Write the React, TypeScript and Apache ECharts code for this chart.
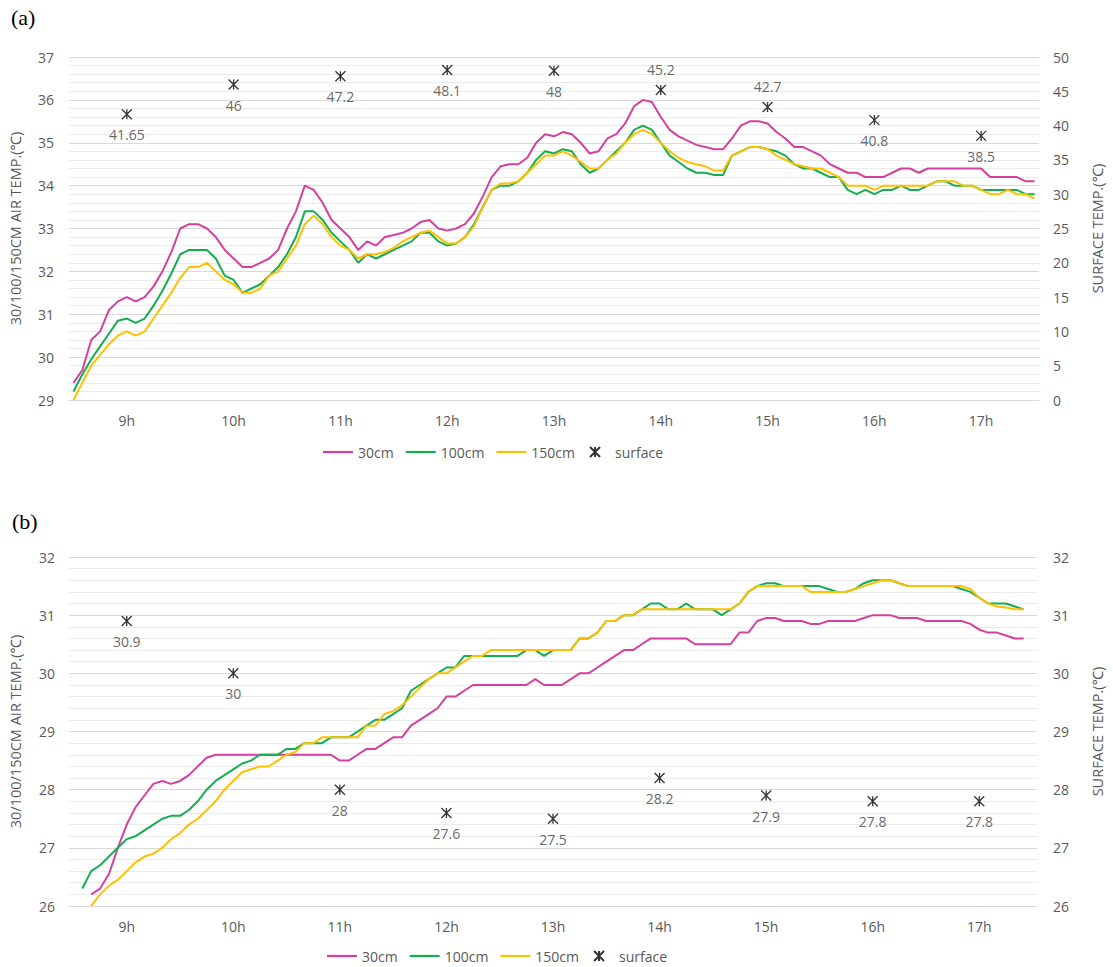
import React, { useEffect, useRef } from 'react';
import * as echarts from 'echarts';

// 5-minute time categories, 8:30 .. 17:30
const TIMES: string[] = (() => {
  const out: string[] = [];
  for (let m = 8 * 60 + 30; m <= 17 * 60 + 30; m += 5) {
    out.push(`${Math.floor(m / 60)}:${String(m % 60).padStart(2, '0')}`);
  }
  return out;
})();

const SERIES_NAMES = ['30cm', '100cm', '150cm', 'surface'];
const SURFACE_TIMES = ['9:00', '10:00', '11:00', '12:00', '13:00', '14:00', '15:00', '16:00', '17:00'];

// ---- panel (a) ----
const A_30 = [
  29.4, 29.7, 30.4, 30.6, 31.1, 31.3, 31.4, 31.3, 31.4, 31.65, 32.0, 32.45,
  33.0, 33.1, 33.1, 33.0, 32.8, 32.5, 32.3, 32.1, 32.1, 32.2, 32.3, 32.5,
  33.0, 33.4, 34.0, 33.9, 33.6, 33.2, 33.0, 32.8, 32.5, 32.7, 32.6, 32.8,
  32.85, 32.9, 33.0, 33.15, 33.2, 33.0, 32.95, 33.0, 33.1, 33.35, 33.75, 34.2,
  34.45, 34.5, 34.5, 34.65, 35.0, 35.2, 35.15, 35.25, 35.2, 35.0, 34.75, 34.8,
  35.1, 35.2, 35.45, 35.85, 36.0, 35.95, 35.6, 35.3, 35.15, 35.05, 34.95, 34.9,
  34.85, 34.85, 35.1, 35.4, 35.5, 35.5, 35.45, 35.25, 35.1, 34.9, 34.9, 34.8,
  34.7, 34.5, 34.4, 34.3, 34.3, 34.2, 34.2, 34.2, 34.3, 34.4, 34.4, 34.3,
  34.4, 34.4, 34.4, 34.4, 34.4, 34.4, 34.4, 34.2, 34.2, 34.2, 34.2, 34.1,
  34.1,
];
const A_100 = [
  29.2, 29.6, 29.95, 30.25, 30.55, 30.85, 30.9, 30.8, 30.9, 31.2, 31.55, 31.95,
  32.4, 32.5, 32.5, 32.5, 32.3, 31.9, 31.8, 31.5, 31.6, 31.7, 31.9, 32.1,
  32.4, 32.8, 33.4, 33.4, 33.2, 32.9, 32.7, 32.5, 32.2, 32.4, 32.3, 32.4,
  32.5, 32.6, 32.7, 32.9, 32.9, 32.7, 32.6, 32.65, 32.8, 33.1, 33.5, 33.9,
  34.0, 34.0, 34.1, 34.3, 34.6, 34.8, 34.75, 34.85, 34.8, 34.5, 34.3, 34.4,
  34.6, 34.8, 35.0, 35.3, 35.4, 35.3, 35.0, 34.7, 34.55, 34.4, 34.3, 34.3,
  34.25, 34.25, 34.7, 34.8, 34.9, 34.9, 34.85, 34.8, 34.7, 34.5, 34.4, 34.4,
  34.3, 34.2, 34.2, 33.9, 33.8, 33.9, 33.8, 33.9, 33.9, 34.0, 33.9, 33.9,
  34.0, 34.1, 34.1, 34.0, 34.0, 34.0, 33.9, 33.9, 33.9, 33.9, 33.9, 33.8,
  33.8,
];
const A_150 = [
  29.0, 29.4, 29.8, 30.05, 30.3, 30.5, 30.6, 30.5, 30.6, 30.9, 31.2, 31.5,
  31.85, 32.1, 32.1, 32.2, 32.0, 31.8, 31.7, 31.5, 31.5, 31.6, 31.9, 32.0,
  32.3, 32.6, 33.1, 33.3, 33.1, 32.8, 32.6, 32.5, 32.3, 32.4, 32.4, 32.45,
  32.55, 32.7, 32.8, 32.9, 32.95, 32.8, 32.65, 32.65, 32.8, 33.05, 33.5, 33.9,
  34.05, 34.05, 34.1, 34.3, 34.5, 34.7, 34.7, 34.8, 34.7, 34.55, 34.4, 34.4,
  34.6, 34.75, 35.0, 35.2, 35.3, 35.2, 35.0, 34.8, 34.65, 34.55, 34.5, 34.45,
  34.35, 34.35, 34.7, 34.8, 34.9, 34.9, 34.85, 34.7, 34.6, 34.5, 34.45, 34.4,
  34.4, 34.3, 34.2, 34.0, 34.0, 34.0, 33.9, 34.0, 34.0, 34.0, 34.0, 34.0,
  34.0, 34.1, 34.1, 34.1, 34.0, 34.0, 33.9, 33.8, 33.8, 33.9, 33.8, 33.8,
  33.7,
];
const A_SURFACE = [41.65, 46, 47.2, 48.1, 48, 45.2, 42.7, 40.8, 38.5];
const A_SURFACE_LABEL_POS = ['bottom', 'bottom', 'bottom', 'bottom', 'bottom', 'top', 'top', 'bottom', 'bottom'];

// ---- panel (b) ----
const B_30 = [
  null, null, 26.2, 26.3, 26.55, 27.0, 27.4, 27.7, 27.9, 28.1, 28.15, 28.1,
  28.15, 28.25, 28.4, 28.55, 28.6, 28.6, 28.6, 28.6, 28.6, 28.6, 28.6, 28.6,
  28.6, 28.6, 28.6, 28.6, 28.6, 28.6, 28.5, 28.5, 28.6, 28.7, 28.7, 28.8,
  28.9, 28.9, 29.1, 29.2, 29.3, 29.4, 29.6, 29.6, 29.7, 29.8, 29.8, 29.8,
  29.8, 29.8, 29.8, 29.8, 29.9, 29.8, 29.8, 29.8, 29.9, 30.0, 30.0, 30.1,
  30.2, 30.3, 30.4, 30.4, 30.5, 30.6, 30.6, 30.6, 30.6, 30.6, 30.5, 30.5,
  30.5, 30.5, 30.5, 30.7, 30.7, 30.9, 30.95, 30.95, 30.9, 30.9, 30.9, 30.85,
  30.85, 30.9, 30.9, 30.9, 30.9, 30.95, 31.0, 31.0, 31.0, 30.95, 30.95, 30.95,
  30.9, 30.9, 30.9, 30.9, 30.9, 30.85, 30.75, 30.7, 30.7, 30.65, 30.6, 30.6,
  null,
];
const B_100 = [
  null, 26.3, 26.6, 26.7, 26.85, 27.0, 27.15, 27.2, 27.3, 27.4, 27.5, 27.55,
  27.55, 27.65, 27.8, 28.0, 28.15, 28.25, 28.35, 28.45, 28.5, 28.6, 28.6, 28.6,
  28.7, 28.7, 28.8, 28.8, 28.8, 28.9, 28.9, 28.9, 29.0, 29.1, 29.2, 29.2,
  29.3, 29.4, 29.7, 29.8, 29.9, 30.0, 30.1, 30.1, 30.3, 30.3, 30.3, 30.3,
  30.3, 30.3, 30.3, 30.4, 30.4, 30.3, 30.4, 30.4, 30.4, 30.6, 30.6, 30.7,
  30.9, 30.9, 31.0, 31.0, 31.1, 31.2, 31.2, 31.1, 31.1, 31.2, 31.1, 31.1,
  31.1, 31.0, 31.1, 31.2, 31.4, 31.5, 31.55, 31.55, 31.5, 31.5, 31.5, 31.5,
  31.5, 31.45, 31.4, 31.4, 31.45, 31.55, 31.6, 31.6, 31.6, 31.55, 31.5, 31.5,
  31.5, 31.5, 31.5, 31.5, 31.45, 31.4, 31.3, 31.2, 31.2, 31.2, 31.15, 31.1,
  null,
];
const B_150 = [
  null, null, 26.0, 26.2, 26.35, 26.45, 26.6, 26.75, 26.85, 26.9, 27.0, 27.15,
  27.25, 27.4, 27.5, 27.65, 27.8, 28.0, 28.15, 28.3, 28.35, 28.4, 28.4, 28.5,
  28.6, 28.65, 28.8, 28.8, 28.9, 28.9, 28.9, 28.9, 28.9, 29.1, 29.1, 29.3,
  29.35, 29.45, 29.6, 29.75, 29.9, 30.0, 30.0, 30.1, 30.2, 30.3, 30.3, 30.4,
  30.4, 30.4, 30.4, 30.4, 30.4, 30.4, 30.4, 30.4, 30.4, 30.6, 30.6, 30.7,
  30.9, 30.9, 31.0, 31.0, 31.1, 31.1, 31.1, 31.1, 31.1, 31.1, 31.1, 31.1,
  31.1, 31.1, 31.1, 31.2, 31.4, 31.5, 31.5, 31.5, 31.5, 31.5, 31.5, 31.4,
  31.4, 31.4, 31.4, 31.4, 31.45, 31.5, 31.55, 31.6, 31.6, 31.55, 31.5, 31.5,
  31.5, 31.5, 31.5, 31.5, 31.5, 31.45, 31.3, 31.2, 31.15, 31.13, 31.1, 31.1,
  null,
];
const B_SURFACE = [30.9, 30, 28, 27.6, 27.5, 28.2, 27.9, 27.8, 27.8];

const A_LEFT_TICKS = { min: 29, max: 37, interval: 1 };
const A_RIGHT_TICKS = { min: 0, max: 50, interval: 5 };
const B_LEFT_TICKS = { min: 26, max: 32, interval: 1 };
const B_RIGHT_TICKS = { min: 26, max: 32, interval: 1 };

const COLORS = { c30: '#d4409e', c100: '#14ad50', c150: '#ffc000', surface: '#000000' };
const STAR = 'path://M0,0L10,10M10,0L0,10M5,0L5,10';
const STAR_LEGEND = 'path://M0,0L0,0M14,14L14,14M2,2L12,12M12,2L2,12M7,2L7,12';
const LINE_LEGEND = 'path://M0,0H30V2.2H0Z';
const FONT = "'Open Sans', 'Noto Sans', sans-serif";
const TXT = '#595959';

function App() {
  const ref = useRef<HTMLDivElement>(null);
  useEffect(() => {
    if (!ref.current) return;
    const chart = echarts.init(ref.current, null, { renderer: 'svg' });

    const xAxis = (gridIndex: number, labelMargin: number) => ({
      type: 'category',
      gridIndex,
      data: TIMES,
      boundaryGap: true,
      axisTick: { show: false },
      axisLine: { show: true, lineStyle: { color: '#d9d9d9', width: 1 } },
      axisLabel: {
        interval: (_i: number, v: string) => v.endsWith(':00'),
        formatter: (v: string) => `${parseInt(v, 10)}h`,
        color: TXT,
        fontFamily: FONT,
        fontSize: 14,
        margin: labelMargin,
      },
      splitLine: { show: false },
    });

    const yAxis = (gridIndex: number, ticks: any, position: string, name: string, nameGap: number, showGrid: boolean, margin: number) => ({
      type: 'value',
      gridIndex,
      position,
      min: ticks.min,
      max: ticks.max,
      interval: ticks.interval,
      name,
      nameLocation: 'middle',
      nameRotate: 90,
      nameGap,
      nameTextStyle: { color: TXT, fontFamily: FONT, fontSize: 14.5 },
      axisLine: { show: false },
      axisTick: { show: false },
      axisLabel: { color: TXT, fontFamily: FONT, fontSize: 14, margin },
      splitLine: { show: showGrid, lineStyle: { color: '#d9d9d9', width: 1 } },
      minorTick: { show: false, splitNumber: 5 },
      minorSplitLine: { show: showGrid, lineStyle: { color: '#ebebeb', width: 1 } },
    });

    const lineSeries = (name: string, data: (number | null)[], color: string, xi: number, yi: number) => ({
      type: 'line',
      name,
      data,
      xAxisIndex: xi,
      yAxisIndex: yi,
      symbol: 'none',
      showSymbol: false,
      connectNulls: false,
      lineStyle: { color, width: 2 },
      itemStyle: { color },
      z: 3,
    });

    const surfaceSeries = (vals: number[], positions: string[], xi: number, yi: number) => ({
      type: 'scatter',
      name: 'surface',
      xAxisIndex: xi,
      yAxisIndex: yi,
      symbol: STAR,
      symbolSize: [10, 10],
      itemStyle: { color: 'rgba(0,0,0,0)', borderColor: COLORS.surface, borderWidth: 1.3 },
      data: vals.map((v, i) => ({
        value: [SURFACE_TIMES[i], v],
        label: { position: positions[i] },
      })),
      label: {
        show: true,
        formatter: (p: any) => String(p.value[1]),
        color: '#404040',
        fontFamily: FONT,
        fontSize: 14,
        distance: 8,
      },
      z: 4,
    });

    const legend = (left: number, top: number) => ({
      data: [
        { name: SERIES_NAMES[0], icon: LINE_LEGEND },
        { name: SERIES_NAMES[1], icon: LINE_LEGEND },
        { name: SERIES_NAMES[2], icon: LINE_LEGEND },
        { name: SERIES_NAMES[3], icon: STAR_LEGEND },
      ],
      left,
      top,
      padding: 0,
      orient: 'horizontal',
      itemWidth: 30,
      itemHeight: 14,
      itemGap: 12,
      selectedMode: false,
      textStyle: { color: TXT, fontFamily: FONT, fontSize: 14 },
    });

    chart.setOption({
      animation: false,
      backgroundColor: '#ffffff',
      grid: [
        { left: 63, top: 57, width: 985, height: 343, containLabel: false },
        { left: 67, top: 557, width: 982, height: 349, containLabel: false },
      ],
      xAxis: [xAxis(0, 13), xAxis(1, 13)],
      yAxis: [
        yAxis(0, A_LEFT_TICKS, 'left', '30/100/150CM AIR TEMP.(\u2103)', 46, true, 15),
        yAxis(0, A_RIGHT_TICKS, 'right', 'SURFACE TEMP.(\u2103)', 51, false, 14),
        yAxis(1, B_LEFT_TICKS, 'left', '30/100/150CM AIR TEMP.(\u2103)', 46, true, 14),
        yAxis(1, B_RIGHT_TICKS, 'right', 'SURFACE TEMP.(\u2103)', 53, false, 16),
      ],
      legend: [legend(323, 444), legend(327, 948)],
      graphic: [
        { type: 'text', left: 11, top: 6, style: { text: '(a)', fontFamily: "'Liberation Serif', 'DejaVu Serif', serif", fontSize: 22, fill: '#000' } },
        { type: 'text', left: 12, top: 510, style: { text: '(b)', fontFamily: "'Liberation Serif', 'DejaVu Serif', serif", fontSize: 22, fill: '#000' } },
      ],
      series: [
        lineSeries('30cm', A_30, COLORS.c30, 0, 0),
        lineSeries('100cm', A_100, COLORS.c100, 0, 0),
        lineSeries('150cm', A_150, COLORS.c150, 0, 0),
        surfaceSeries(A_SURFACE, A_SURFACE_LABEL_POS, 0, 1),
        lineSeries('30cm', B_30, COLORS.c30, 1, 2),
        lineSeries('100cm', B_100, COLORS.c100, 1, 2),
        lineSeries('150cm', B_150, COLORS.c150, 1, 2),
        surfaceSeries(B_SURFACE, B_SURFACE.map(() => 'bottom'), 1, 3),
      ],
    });

    return () => chart.dispose();
  }, []);

  return (
    <div
      ref={ref}
      style={{ position: 'absolute', left: 0, top: 0, width: 1113, height: 967, background: '#fff' }}
    />
  );
}

export default App;
